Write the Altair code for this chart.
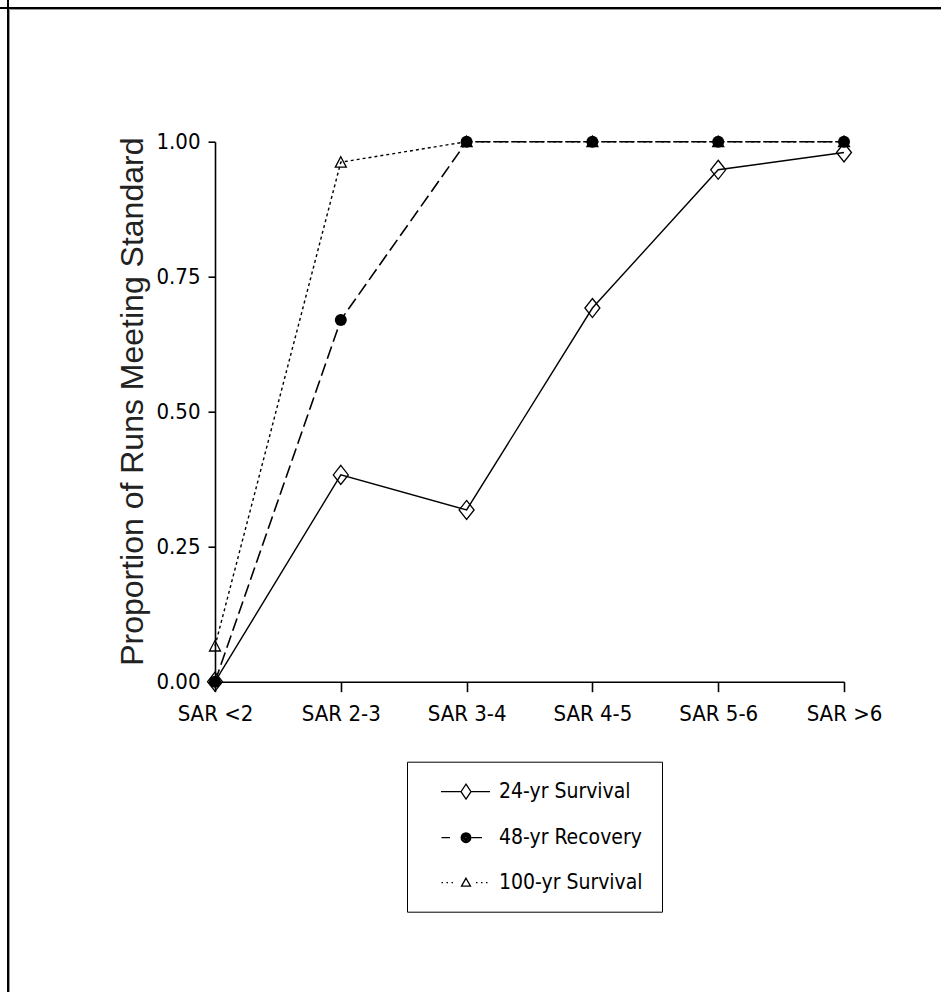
import altair as alt
import pandas as pd

categories = ["SAR <2", "SAR 2-3", "SAR 3-4", "SAR 4-5", "SAR 5-6", "SAR >6"]
series_names = ["24-yr Survival", "48-yr Recovery", "100-yr Survival"]
surv24 = [0.0, 0.383, 0.318, 0.692, 0.948, 0.980]
rec48 = [0.0, 0.670, 1.0, 1.0, 1.0, 1.0]
surv100 = [0.066, 0.962, 1.0, 1.0, 1.0, 1.0]
y_ticks = [0.0, 0.25, 0.5, 0.75, 1.0]

rows = []
for name, vals in zip(series_names, [surv24, rec48, surv100]):
    for c, v in zip(categories, vals):
        rows.append({"SAR": c, "Proportion": v, "Series": name})
df = pd.DataFrame(rows)

NARROW = "DejaVu Sans Condensed, sans-serif"
REG = "Liberation Sans, Arial, sans-serif"

W, H = 629, 540
PAD_L, PAD_T = 215, 141.7

x_enc = alt.X(
    "SAR:N", sort=categories,
    scale=alt.Scale(type="point", padding=0, domain=categories),
    axis=alt.Axis(title=None, labelAngle=0, labelFont=NARROW, labelFontSize=22,
                  labelColor="black", tickSize=10, labelPadding=12,
                  domainColor="black", tickColor="black", domainWidth=1.6,
                  tickWidth=1.6, grid=False),
)
y_enc = alt.Y(
    "Proportion:Q",
    scale=alt.Scale(domain=[0, 1], nice=False, zero=True),
    axis=alt.Axis(values=y_ticks, format=".2f",
                  title="Proportion of Runs Meeting Standard",
                  titleFont=REG, titleFontSize=32, titleFontWeight="normal",
                  titleColor="#222", titleAngle=270, titleAlign="center",
                  titleBaseline="middle", titleX=-83, titleY=259.5,
                  labelFont=NARROW, labelFontSize=22, labelColor="black",
                  tickSize=7, labelPadding=8, domainColor="black",
                  tickColor="black", domainWidth=1.6, tickWidth=1.6, grid=False),
)

base = alt.Chart(df)

line_styles = {
    "24-yr Survival": dict(strokeWidth=1.4),
    "48-yr Recovery": dict(strokeWidth=1.6, strokeDash=[13, 5]),
    "100-yr Survival": dict(strokeWidth=1.4, strokeDash=[3, 3]),
}

diamond_path = "M0,-1.27L1,0L0,1.27L-1,0Z"
triangle_path = "M0,-1L1,0.9L-1,0.9Z"

layers = []
for name in series_names:
    layers.append(
        base.transform_filter(alt.datum.Series == name)
        .mark_line(color="black", **line_styles[name])
        .encode(x=x_enc, y=y_enc)
    )

layers.append(
    base.transform_filter(alt.datum.Series == series_names[0])
    .mark_point(shape=diamond_path, size=225, filled=False, color="black",
                strokeWidth=1.3, opacity=1)
    .encode(x=x_enc, y=y_enc)
)
layers.append(
    base.transform_filter(alt.datum.Series == series_names[1])
    .mark_point(shape="circle", size=144, filled=True, color="black", opacity=1)
    .encode(x=x_enc, y=y_enc)
)
layers.append(
    base.transform_filter(alt.datum.Series == series_names[2])
    .mark_point(shape=triangle_path, size=121, filled=False, color="black",
                strokeWidth=1.3, opacity=1)
    .encode(x=x_enc, y=y_enc)
)

# legend symbols: line segments + marker, drawn as stroke-only paths (units of 10px)
rings = "".join(
    f"M-{r},0A{r},{r} 0 1,0 {r},0A{r},{r} 0 1,0 -{r},0" for r in ["0.48", "0.36", "0.24", "0.12", "0.03"]
)
legend_paths = [
    "M-2.5,0L-0.5,0M0.5,0L2.4,0M0,-0.75L0.5,0L0,0.75L-0.5,0Z",
    "M-2.45,0L-1.6,0M0.55,0L1.6,0" + rings,
    "M-2.45,0L-2.3,0M-1.95,0L-1.8,0M-1.45,0L-1.3,0M1.0,0L1.15,0M1.5,0L1.65,0M2.0,0L2.15,0M0,-0.45L0.45,0.35L-0.45,0.35Z",
]
legend_def = alt.Legend(
    title=None, orient="none", legendX=192, legendY=620, direction="vertical",
    padding=19, rowPadding=24, symbolSize=400, symbolStrokeWidth=1.3,
    symbolStrokeColor="black", symbolOffset=29, labelOffset=22,
    labelFont=NARROW, labelFontSize=21, labelColor="black",
    strokeColor="black", fillColor="white", labelLimit=400,
)
layers.append(
    base.transform_filter("false")
    .mark_point(filled=False, size=400, color="black", strokeWidth=1.3, opacity=1)
    .encode(
        x=x_enc, y=y_enc,
        shape=alt.Shape("Series:N", scale=alt.Scale(domain=series_names, range=legend_paths),
                        legend=legend_def),
    )
)

# outer frame (top and left edges)
frame_df = pd.DataFrame({"k": [0]})
frame = alt.Chart(frame_df)
layers.append(frame.mark_rule(color="black", strokeWidth=2).encode(
    x=alt.value(-PAD_L), x2=alt.value(941), y=alt.value(8 - PAD_T)))
layers.append(frame.mark_rule(color="black", strokeWidth=2).encode(
    x=alt.value(8 - PAD_L), y=alt.value(-PAD_T), y2=alt.value(992)))
layers.append(frame.mark_rule(color="#999", strokeWidth=1).encode(
    x=alt.value(9 - PAD_L + 0.5), x2=alt.value(941), y=alt.value(9.5 - PAD_T)))
layers.append(frame.mark_rule(color="#999", strokeWidth=1).encode(
    x=alt.value(9.5 - PAD_L), y=alt.value(9.5 - PAD_T), y2=alt.value(992)))

chart = alt.layer(*layers).properties(
    width=W, height=H,
    autosize=alt.AutoSizeParams(type="none"),
    padding={"left": PAD_L, "top": PAD_T, "right": 941 - PAD_L - W, "bottom": 992 - PAD_T - H},
    background="white",
).configure_view(stroke=None)

chart.save("out.html", embed_options={"renderer": "svg", "actions": False})
